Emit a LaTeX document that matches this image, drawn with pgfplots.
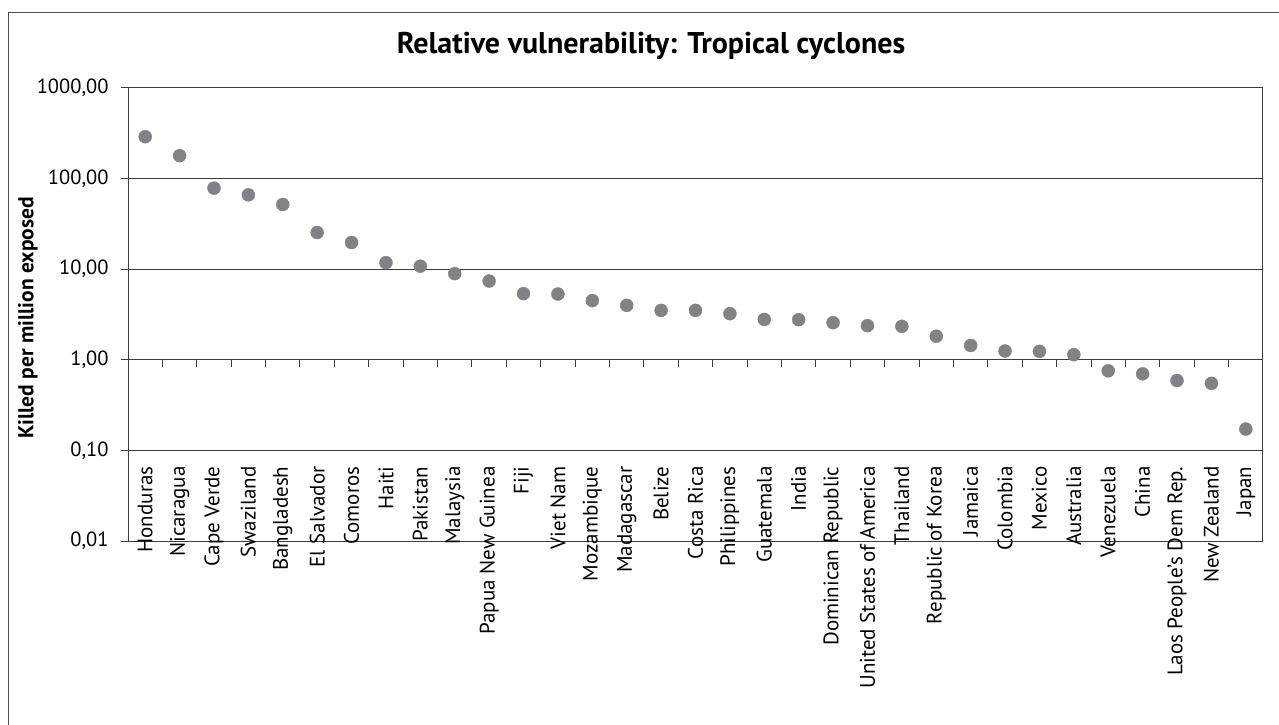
\documentclass[border=0pt]{standalone}
\usepackage{pgfplots}
\pgfplotsset{compat=1.18}
\usepackage{fontspec}
\setmainfont{PT Sans}
\definecolor{dotgray}{RGB}{128,130,133}
\definecolor{linegray}{RGB}{60,60,60}
\begin{document}
\begin{tikzpicture}[x=1pt,y=1pt]
\useasboundingbox (0,0) rectangle (1279,725);
\draw[line width=1.3pt, black!70] (8.5,-2) -- (8.5,712.5) -- (1281,712.5);
\node[font=\fontsize{30}{33}\selectfont\bfseries] at (651,679) {Relative vulnerability: Tropical cyclones};
\node[font=\fontsize{21.5}{24}\selectfont\bfseries, rotate=90] at (28,407) {Killed per million exposed};
\begin{axis}[
  at={(128pt,184pt)}, anchor=south west, scale only axis,
  width=1135pt, height=453pt,
  ymode=log, ymin=0.01, ymax=1000,
  xmin=-0.5, xmax=32.5,
  ytick={0.01,0.1,1,10,100,1000},
  yticklabels={{0,01},{0,10},{1,00},{10,00},{100,00},{1000,00}},
  yminorticks=false,
  ymajorgrids,
  grid style={linegray, line width=1pt},
  axis line style={linegray, line width=1pt},
  ytick pos=left,
  tick align=outside,
  major tick length=7pt,
  y tick style={linegray, line width=1pt},
  yticklabel style={font=\fontsize{20.5}{22}\selectfont, xshift=-9pt},
  xtick={0,...,32},
  xticklabels={Honduras,Nicaragua,Cape Verde,Swaziland,Bangladesh,El Salvador,Comoros,Haiti,Pakistan,Malaysia,Papua New Guinea,Fiji,Viet Nam,Mozambique,Madagascar,Belize,Costa Rica,Philippines,Guatemala,India,Dominican Republic,United States of America,Thailand,Republic of Korea,Jamaica,Colombia,Mexico,Australia,Venezuela,China,Laos People’s Dem Rep.,New Zealand,Japan},
  x tick style={draw=none},
  xtick pos=bottom,
  xticklabel style={yshift=85pt, rotate=90, anchor=east, font=\fontsize{21}{23}\selectfont},
]
\addplot[only marks, mark=*, mark size=6.5pt, color=dotgray, mark options={draw=dotgray, fill=dotgray}] coordinates {
(0,290) (1,179) (2,78.5) (3,66.2) (4,51.8) (5,25.4) (6,19.7) (7,11.8) (8,10.8) (9,8.94)
(10,7.4) (11,5.37) (12,5.32) (13,4.5) (14,3.99) (15,3.51) (16,3.51) (17,3.23) (18,2.79) (19,2.77)
(20,2.57) (21,2.38) (22,2.34) (23,1.82) (24,1.44) (25,1.25) (26,1.24) (27,1.14) (28,0.756) (29,0.70)
(30,0.59) (31,0.55) (32,0.172)
};
\end{axis}
\begin{axis}[
  at={(128pt,184pt)}, anchor=south west, scale only axis,
  width=1135pt, height=453pt,
  ymode=log, ymin=0.01, ymax=1000,
  xmin=-0.5, xmax=32.5,
  axis x line=middle, axis y line=none,
  x axis line style={draw=none},
  xtick={0.5,1.5,...,31.5},
  xticklabel=\empty,
  ytick=\empty,
  tick align=outside,
  major tick length=7pt,
  x tick style={linegray, line width=1pt},
]
\end{axis}
\end{tikzpicture}
\end{document}
